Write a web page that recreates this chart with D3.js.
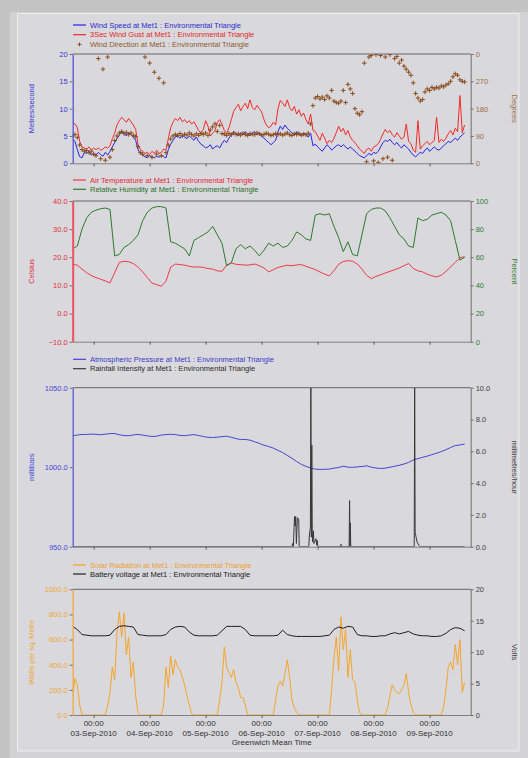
<!DOCTYPE html>
<html>
<head>
<meta charset="utf-8">
<script src="https://cdn.jsdelivr.net/npm/d3@7"></script>
<style>
  html, body { margin: 0; padding: 0; background: #c4c4c4; }
  svg { display: block; font-family: "Liberation Sans", Arial, sans-serif; }
</style>
</head>
<body>
<svg id="chart" width="528" height="758"></svg>
<script>
(function () {
  'use strict';

  // hourly readings, first one at 02-Sep-2010 15:00 GMT
  var windSpeed = [
    4.5, 4.0, 2.5, 1.2, 1.0, 2.0, 1.8, 2.2, 1.5, 1.8,
    1.5, 2.0, 1.6, 1.3, 2.0, 1.5, 2.2, 3.0, 3.8, 4.5,
    5.2, 5.8, 5.5, 5.0, 5.6, 5.2, 4.8, 4.2, 2.5, 1.8,
    1.5, 1.2, 1.0, 1.4, 1.2, 1.0, 1.3, 1.1, 1.5, 1.2,
    1.0, 2.5, 3.5, 4.2, 4.8, 5.0, 4.6, 5.2, 4.8, 4.5,
    5.0, 4.6, 4.2, 4.8, 4.0, 3.5, 3.2, 2.8, 3.0, 3.4,
    2.6, 3.0, 3.2, 2.8, 3.6, 4.2, 3.8, 4.6, 5.2, 5.8,
    5.4, 5.0, 5.6, 5.2, 5.8, 5.4, 5.0, 5.6, 5.8, 5.2,
    5.6, 5.0, 4.6, 4.2, 3.8, 3.4, 3.8, 4.2, 5.8, 6.8,
    6.2, 7.0, 6.4, 6.0, 5.6, 5.2, 5.8, 5.4, 5.0, 5.6,
    5.2, 4.8, 5.5, 3.2, 3.5, 3.0, 2.6, 2.2, 2.8, 3.4,
    3.0, 2.4, 2.8, 3.2, 3.4, 3.0, 3.4, 3.0, 2.6, 3.0,
    2.6, 2.2, 1.8, 1.4, 1.2, 1.0, 1.4, 1.8, 1.5, 2.0,
    1.8, 2.2, 3.0, 3.8, 4.2, 4.0, 4.4, 3.8, 3.4, 3.8,
    3.2, 2.8, 3.4, 3.0, 2.6, 2.0, 1.5, 1.2, 1.6, 2.0,
    1.8, 2.4, 2.8, 2.2, 2.6, 3.0, 2.6, 2.4, 2.8, 3.2,
    3.6, 4.0, 3.8, 4.2, 4.6, 4.2, 4.8, 5.2, 5.6
  ];
  var windGust = [
    7.5, 7.2, 6.5, 4.0, 3.0, 2.8, 2.6, 3.0, 2.4, 2.8,
    2.5, 2.8, 2.4, 2.6, 3.0, 2.8, 3.2, 4.5, 5.5, 7.0,
    7.8, 8.4, 8.0, 7.5, 8.2, 7.6, 7.0, 6.2, 3.5, 2.5,
    2.2, 1.8, 2.0, 1.6, 2.2, 1.8, 2.4, 1.8, 2.0, 2.6,
    2.4, 4.5, 6.5, 7.5, 8.2, 7.8, 8.4, 7.6, 8.0, 7.4,
    7.8, 7.2, 7.6, 6.8, 6.0, 5.5, 6.2, 7.8, 6.8, 5.0,
    5.5, 6.0, 7.5, 8.0, 7.2, 6.0, 5.5, 6.5, 8.0, 9.5,
    10.2, 10.8, 9.6, 10.4, 11.0, 10.0, 11.6, 10.2, 9.8, 10.6,
    10.0, 9.4, 8.0, 7.0, 6.5, 6.8, 7.5, 7.0, 10.0, 11.5,
    11.0, 10.4, 11.6, 10.2, 9.6, 10.4, 9.0, 9.8, 8.6, 9.2,
    8.0, 7.2, 9.0, 6.0, 5.8, 5.0, 4.2, 5.5, 4.6, 3.6,
    4.2, 3.8, 4.6, 5.6, 6.8, 5.8, 6.4, 5.2, 6.0, 4.8,
    4.2, 3.8, 3.2, 2.6, 2.2, 1.8, 2.5, 2.8, 2.2, 3.0,
    3.2, 3.6, 4.4, 5.4, 6.2, 5.6, 6.0, 5.2, 4.8, 5.6,
    5.0, 4.4, 4.8, 7.2, 4.0, 3.6, 2.4, 2.0, 7.8, 2.6,
    3.2, 3.6, 4.0, 3.4, 3.8, 4.2, 8.4, 3.8, 4.4, 4.0,
    4.6, 5.4, 6.0, 5.2, 6.4, 5.8, 12.4, 5.6, 7.0
  ];
  var windDirection = [
    90, 95, 85, 60, 45, 40, 42, 35, 40, 30,
    25, 345, 15, 310, 10, 350, 20, 45, 75, 90,
    100, 105, 98, 102, 95, 100, 92, 88, 55, 35,
    30, 350, 25, 330, 20, 300, 30, 280, 25, 265,
    35, 60, 80, 90, 95, 92, 98, 90, 96, 93,
    100, 95, 90, 97, 92, 98, 95, 100, 92, 110,
    120, 130, 105, 125, 98, 96, 92, 98, 94, 100,
    95, 97, 93, 99, 95, 92, 98, 96, 94, 100,
    97, 93, 95, 99, 96, 92, 94, 98, 95, 97,
    93, 96, 100, 94, 92, 97, 95, 98, 93, 96,
    94, 99, 130, 190, 215, 220, 212, 218, 210, 222,
    215, 240, 205, 200, 198, 205, 240, 200, 260, 245,
    230, 180, 165, 160, 170, 330, 5, 350, 355, 8,
    358, 2, 355, 15, 350, 20, 358, 10, 345, 352,
    330, 340, 320, 310, 300, 290, 265, 230, 215, 205,
    210, 235, 245, 240, 250, 245, 250, 248, 255, 252,
    258, 262, 270, 285, 295, 290, 275, 270, 268
  ];
  var solarRadiation = [
    150, 290, 240, 80, 0, 0, 0, 0, 0, 0,
    0, 0, 0, 0, 0, 80, 180, 380, 280, 650,
    820, 620, 810, 480, 620, 300, 420, 150, 20, 0,
    0, 0, 0, 0, 0, 0, 0, 0, 0, 80,
    380, 220, 470, 320, 440, 380, 360, 300, 240, 150,
    80, 10, 0, 0, 0, 0, 0, 0, 0, 0,
    0, 0, 0, 120, 260, 540, 380, 340, 300, 360,
    260, 220, 140, 140, 80, 0, 0, 0, 0, 0,
    0, 0, 0, 0, 0, 0, 0, 120, 230, 270,
    230, 330, 440, 300, 120, 60, 20, 0, 0, 0,
    0, 0, 0, 0, 0, 0, 0, 0, 0, 0,
    0, 200, 450, 620, 350, 780, 520, 680, 300, 520,
    280, 260, 120, 20, 0, 0, 0, 0, 0, 0,
    0, 0, 0, 0, 0, 60, 150, 240, 200, 180,
    170, 200, 240, 330, 180, 80, 20, 0, 0, 0,
    0, 0, 0, 0, 0, 0, 0, 0, 0, 60,
    200, 380, 420, 360, 560, 400, 600, 180, 260
  ];

  // two-hourly readings, same start
  var airTemperature = [
    17.5, 17.2, 15.8, 14.5, 13.5, 12.8, 12.2, 11.6, 10.9, 14.5,
    18.2, 18.6, 18.4, 17.8, 16.5, 14.8, 12.8, 10.8, 10.3, 9.7,
    11.5, 16.5, 17.6, 17.4, 17.2, 16.8, 16.5, 16.6, 16.4, 16.0,
    15.8, 15.2, 15.0, 17.2, 18.0, 17.5, 17.4, 17.2, 17.3, 17.6,
    17.0, 16.2, 14.8, 15.6, 16.4, 16.8, 17.2, 17.0, 17.3, 17.4,
    16.8, 16.2, 15.6, 14.8, 14.0, 13.4, 15.2, 17.5, 18.5, 18.8,
    18.6, 17.6, 15.8, 13.6, 12.4, 13.2, 13.8, 14.4, 15.0, 15.6,
    16.2, 17.0, 17.8, 16.0, 15.2, 14.8, 14.0, 13.4, 13.0, 13.6,
    15.0, 16.6, 18.2, 19.8, 20.2
  ];
  var humidity = [
    66, 68, 80, 88, 92, 93.5, 94.5, 95, 94, 61,
    62, 67, 69, 72, 76, 86, 92, 95, 96, 96,
    95, 71, 70, 68, 66, 61, 72, 74, 76, 78,
    82, 76, 70, 54, 56, 66, 69, 66, 68, 65,
    61, 65, 70, 68, 70, 67, 68, 72, 78, 76,
    73, 72, 90, 91, 90, 91, 82, 74, 64, 71,
    62, 61, 76, 91, 94, 95, 95, 93, 88, 82,
    76, 73, 68, 67, 88, 86, 87, 90, 91, 92,
    90, 86, 72, 58, 60
  ];
  var pressure = [
    1019.8, 1020.2, 1020.6, 1020.6, 1020.8, 1020.7, 1020.4, 1020.8, 1021.1, 1021.2,
    1020.4, 1019.9, 1019.8, 1020.3, 1020.6, 1020.2, 1019.7, 1019.3, 1019.5, 1020.2,
    1020.5, 1020.7, 1020.5, 1020.0, 1019.8, 1020.2, 1020.5, 1019.9, 1019.3, 1018.8,
    1018.7, 1018.9, 1019.2, 1019.5, 1018.8, 1018.0, 1017.4, 1017.5, 1017.0, 1016.0,
    1015.0, 1013.8, 1013.0, 1012.0, 1010.6, 1009.2, 1007.4, 1005.6, 1003.6, 1001.8,
    1000.5, 999.5, 998.8, 998.6, 998.7, 998.8, 999.4, 999.8, 1000.6, 1000.0,
    999.9, 1000.2, 1000.4, 1000.9, 1000.0, 999.5, 999.2, 999.4, 1000.0, 1000.6,
    1001.2, 1002.0, 1003.0, 1004.6, 1005.4, 1006.2, 1007.0, 1007.9, 1008.8, 1009.8,
    1011.0, 1012.4, 1013.6, 1014.0, 1014.6
  ];
  var batteryVoltage = [
    14.1, 13.6, 12.8, 12.7, 12.6, 12.6, 12.6, 12.6, 12.7, 13.6,
    14.1, 14.2, 14.1, 14.0, 12.8, 12.7, 12.6, 12.6, 12.6, 12.6,
    12.8, 13.6, 14.0, 14.1, 14.0, 13.2, 12.7, 12.6, 12.6, 12.6,
    12.6, 12.7, 13.4, 14.1, 14.1, 14.1, 14.1, 13.6, 12.7, 12.6,
    12.6, 12.6, 12.6, 12.6, 12.7, 13.5, 12.8, 12.6, 12.5, 12.5,
    12.5, 12.5, 12.5, 12.5, 12.6, 12.7, 13.6, 14.0, 13.8, 14.1,
    14.0, 12.8, 12.6, 12.6, 12.5, 12.5, 12.6, 12.6, 12.9, 13.1,
    12.9, 13.1, 13.3, 12.9, 12.7, 12.6, 12.6, 12.5, 12.5, 12.6,
    13.0, 13.6, 13.9, 13.8, 13.4
  ];

  // rainfall comes in short bursts: hours after start and mm/hour
  var rainHours = [
    0, 94.0, 94.3, 94.6, 94.9, 95.1, 95.4, 95.6, 95.9, 96.3, 96.6, 96.9, 97.1,
    101.2, 101.5, 101.9, 102.1, 102.3, 102.5, 102.7, 102.9, 103.2, 103.4,
    104.3, 104.6, 104.8, 105.1, 114.9, 115.0, 115.2, 118.5, 118.7, 118.9, 119.0, 119.2,
    146.4, 146.6, 146.8, 147.2, 147.6, 148.4, 148.9, 168
  ];
  var rainValues = [
    0, 0, 0.2, 0, 1.2, 1.9, 1.3, 1.9, 0.2, 1.8, 1.8, 1.7, 0,
    0, 0.8, 1.2, 10.5, 0.6, 6.4, 1.0, 0.3, 1.0, 0.2,
    0.5, 0.1, 0.4, 0, 0, 0.15, 0, 0, 2.9, 0, 1.5, 0,
    0, 10.5, 0.9, 0.6, 0.3, 0.1, 0, 0
  ];

  var speedTicks = [0, 5, 10, 15, 20];
  var degreeTicks = [0, 90, 180, 270, 360];
  var celsiusTicks = [-10, 0, 10, 20, 30, 40];
  var percentTicks = [0, 20, 40, 60, 80, 100];
  var millibarTicks = [950, 1000, 1050];
  var rainTicks = [0, 2, 4, 6, 8, 10];
  var wattTicks = [0, 200, 400, 600, 800, 1000];
  var voltTicks = [0, 5, 10, 15, 20];
  var dayTicks = ['03-Sep-2010', '04-Sep-2010', '05-Sep-2010', '06-Sep-2010',
    '07-Sep-2010', '08-Sep-2010', '09-Sep-2010'];

  var START = Date.UTC(2010, 8, 2, 15, 0);
  var HOUR = 3600 * 1000;

  function series(values, stepHours) {
    return values.map(function (v, i) {
      return { date: new Date(START + i * stepHours * HOUR), value: v };
    });
  }

  var rain = rainHours.map(function (h, i) {
    return { date: new Date(START + h * HOUR), value: rainValues[i] };
  });

  var fmt1 = d3.format('.1f');
  var fmt0 = d3.format('d');

  var panels = [
    {
      top: 54, bottom: 163.3, legendY: [25, 34.7, 44.4],
      left: { domain: [0, 20], ticks: speedTicks, format: fmt0, color: '#3535d6', line: '#4a4ae0', title: 'Metres/second' },
      right: { domain: [0, 360], ticks: degreeTicks, format: function (d) { return d % 360; }, color: '#9c7048', title: 'Degrees' },
      series: [
        { name: 'Wind Speed at Met1 : Environmental Triangle', data: series(windSpeed, 1), axis: 'left', color: '#2424e6', text: '#2a2ad0' },
        { name: '3Sec Wind Gust at Met1 : Environmental Triangle', data: series(windGust, 1), axis: 'left', color: '#f02a2a', text: '#e0282e' },
        { name: 'Wind Direction at Met1 : Environmental Triangle', data: series(windDirection, 1), axis: 'right', color: '#8a4c1c', text: '#8c5a30', type: 'plus' }
      ]
    },
    {
      top: 201, bottom: 341.7, legendY: [180, 189.3],
      left: { domain: [-10, 40], ticks: celsiusTicks, format: fmt1, color: '#e0303c', line: '#f05060', width: 2, title: 'Celsius' },
      right: { domain: [0, 100], ticks: percentTicks, format: fmt0, color: '#2f7f2f', title: 'Percent' },
      series: [
        { name: 'Air Temperature at Met1 : Environmental Triangle', data: series(airTemperature, 2), axis: 'left', color: '#ec3a48', text: '#e02a38' },
        { name: 'Relative Humidity at Met1 : Environmental Triangle', data: series(humidity, 2), axis: 'right', color: '#2d7a2d', text: '#2a702a' }
      ]
    },
    {
      top: 387.7, bottom: 546.7, legendY: [359.3, 368.7],
      left: { domain: [950, 1050], ticks: millibarTicks, format: fmt1, color: '#4545d8', line: '#5050e0', title: 'millibars' },
      right: { domain: [0, 10], ticks: rainTicks, format: fmt1, color: '#404040', title: 'millimetres/hour' },
      series: [
        { name: 'Atmospheric Pressure at Met1 : Environmental Triangle', data: series(pressure, 2), axis: 'left', color: '#4646cc', text: '#3838c8' },
        { name: 'Rainfall Intensity at Met1 : Environmental Triangle', data: rain, axis: 'right', color: '#3a3a3a', text: '#2a2a2a' }
      ]
    },
    {
      top: 589.3, bottom: 715, legendY: [565, 574],
      left: { domain: [0, 1000], ticks: wattTicks, format: fmt1, color: '#f0a838', line: '#f4a830', title: 'Watts per sq. Metre' },
      right: { domain: [0, 20], ticks: voltTicks, format: fmt0, color: '#404040', title: 'Volts' },
      series: [
        { name: 'Solar Radiation at Met1 : Environmental Triangle', data: series(solarRadiation, 1), axis: 'left', color: '#f4a52a', text: '#f0a030' },
        { name: 'Battery voltage at Met1 : Environmental Triangle', data: series(batteryVoltage, 2), axis: 'right', color: '#1e1e1e', text: '#202020' }
      ]
    }
  ];

  var svg = d3.select('#chart');
  var x0 = 72.67, x1 = 470.67;

  var x = d3.scaleUtc()
    .domain([new Date(START), new Date(START + 170.6 * HOUR)])
    .range([x0, x1]);
  var parseDay = d3.utcParse('%d-%b-%Y');
  var dayDates = dayTicks.map(parseDay);

  // background frame
  svg.append('rect').attr('width', 528).attr('height', 758).attr('fill', '#c4c4c4');
  svg.append('rect').attr('x', 10).attr('y', 12).attr('width', 518).attr('height', 746).attr('fill', '#d2d2d4');
  svg.append('rect').attr('x', 17.5).attr('y', 13.5).attr('width', 501.5).attr('height', 737.5)
    .attr('fill', '#d9d8dc').attr('stroke', '#eeeeee');

  panels.forEach(drawPanel);

  // time labels under the last panel
  var last = panels[panels.length - 1];
  var labels = svg.append('g').attr('font-size', 8).attr('fill', '#303030').attr('text-anchor', 'middle');
  dayDates.forEach(function (d, i) {
    labels.append('text').attr('x', x(d)).attr('y', last.bottom + 10.5).text(d3.utcFormat('%H:%M')(d));
    labels.append('text').attr('x', x(d)).attr('y', last.bottom + 20.5).text(dayTicks[i]);
  });
  labels.append('text').attr('x', (x0 + x1) / 2).attr('y', last.bottom + 29.8).text('Greenwich Mean Time');

  function drawPanel(p, idx) {
    var g = svg.append('g');
    var yL = d3.scaleLinear().domain(p.left.domain).range([p.bottom, p.top]);
    var yR = d3.scaleLinear().domain(p.right.domain).range([p.bottom, p.top]);
    var clipId = 'clip' + idx;

    g.append('clipPath').attr('id', clipId)
      .append('rect').attr('x', x0).attr('y', p.top).attr('width', x1 - x0).attr('height', p.bottom - p.top);

    // legend
    p.series.forEach(function (s, i) {
      var ly = p.legendY[i];
      if (s.type === 'plus') {
        g.append('path').attr('d', 'M77.5,' + ly + 'h4M79.5,' + (ly - 2) + 'v4')
          .attr('stroke', s.color).attr('stroke-width', 1);
      } else {
        g.append('line').attr('x1', 73).attr('x2', 86).attr('y1', ly).attr('y2', ly)
          .attr('stroke', s.color).attr('stroke-width', 1.2);
      }
      g.append('text').attr('x', 90).attr('y', ly + 2.7).attr('font-size', 7.5)
        .attr('fill', s.text).text(s.name);
    });

    // series
    var plot = g.append('g').attr('clip-path', 'url(#' + clipId + ')');
    p.series.forEach(function (s) {
      var y = s.axis === 'left' ? yL : yR;
      if (s.type === 'plus') {
        plot.selectAll('path.dir').data(s.data).enter().append('path')
          .attr('class', 'dir')
          .attr('d', function (d) {
            var px = x(d.date), py = y(d.value);
            return 'M' + (px - 2.2) + ',' + py + 'h4.4M' + px + ',' + (py - 2.2) + 'v4.4';
          })
          .attr('stroke', s.color).attr('stroke-width', 1);
      } else {
        plot.append('path').datum(s.data)
          .attr('fill', 'none').attr('stroke', s.color).attr('stroke-width', 1)
          .attr('stroke-linejoin', 'round')
          .attr('d', d3.line().x(function (d) { return x(d.date); }).y(function (d) { return y(d.value); }));
      }
    });

    // frame top
    g.append('line').attr('x1', x0).attr('x2', x1).attr('y1', p.top).attr('y2', p.top)
      .attr('stroke', '#666').attr('stroke-width', 1);

    // bottom axis
    var xa = g.append('g').attr('transform', 'translate(0,' + p.bottom + ')')
      .call(d3.axisBottom(x).tickValues(dayDates).tickSize(3).tickSizeOuter(0).tickFormat(''));
    xa.select('.domain').attr('stroke', '#808080');
    xa.selectAll('.tick line').attr('stroke', '#606060');

    // left axis
    var la = g.append('g').attr('transform', 'translate(' + x0 + ',0)')
      .call(d3.axisLeft(yL).tickValues(p.left.ticks).tickSize(3).tickSizeOuter(0).tickPadding(2).tickFormat(p.left.format));
    la.select('.domain').attr('stroke', p.left.line).attr('stroke-width', p.left.width || 1.2);
    la.selectAll('.tick line').attr('stroke', '#707070');
    la.selectAll('.tick text').attr('fill', p.left.color).attr('font-size', 7.5)
      .attr('font-family', '"Liberation Sans", Arial, sans-serif');

    // right axis
    var ra = g.append('g').attr('transform', 'translate(' + x1 + ',0)')
      .call(d3.axisRight(yR).tickValues(p.right.ticks).tickSize(3).tickSizeOuter(0).tickPadding(2).tickFormat(p.right.format));
    ra.select('.domain').attr('stroke', '#707070');
    ra.selectAll('.tick line').attr('stroke', '#707070');
    ra.selectAll('.tick text').attr('fill', p.right.color).attr('font-size', 7.5)
      .attr('font-family', '"Liberation Sans", Arial, sans-serif');

    // axis titles
    var midY = (p.top + p.bottom) / 2;
    g.append('text').attr('transform', 'translate(31,' + midY + ') rotate(-90)')
      .attr('text-anchor', 'middle').attr('dy', '0.35em').attr('font-size', 7.5)
      .attr('fill', p.left.color).text(p.left.title);
    g.append('text').attr('transform', 'translate(515,' + midY + ') rotate(90)')
      .attr('text-anchor', 'middle').attr('dy', '0.35em').attr('font-size', 7.5)
      .attr('fill', p.right.color).text(p.right.title);
  }
})();
</script>
</body>
</html>
